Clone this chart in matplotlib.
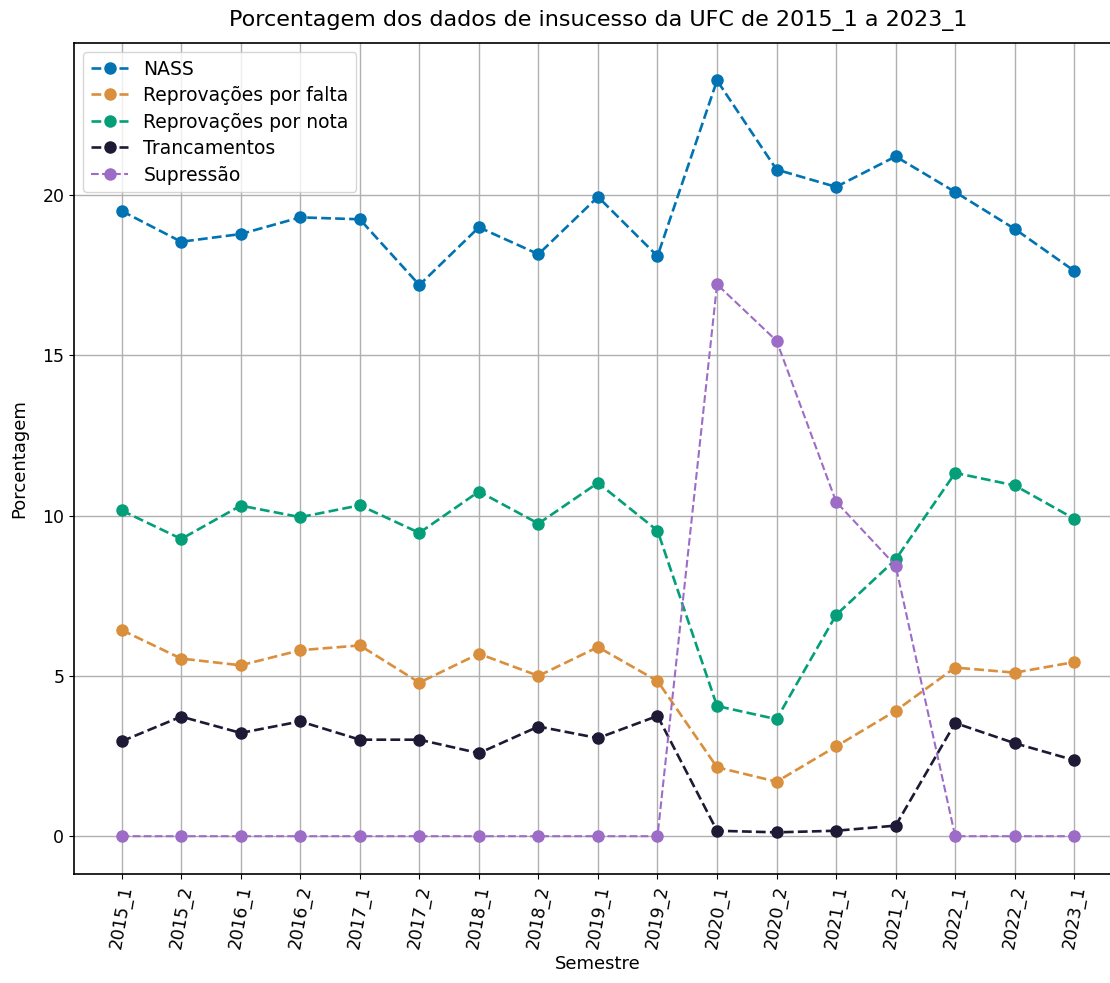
import matplotlib
matplotlib.use("Agg")
import matplotlib.pyplot as plt

semestres = ["2015_1", "2015_2", "2016_1", "2016_2", "2017_1", "2017_2", "2018_1",
             "2018_2", "2019_1", "2019_2", "2020_1", "2020_2", "2021_1", "2021_2",
             "2022_1", "2022_2", "2023_1"]

nass = [19.50, 18.54, 18.78, 19.30, 19.24, 17.19, 18.99, 18.15, 19.94, 18.09,
        23.57, 20.79, 20.25, 21.20, 20.09, 18.94, 17.63]
falta = [6.43, 5.54, 5.33, 5.80, 5.95, 4.79, 5.69, 5.00, 5.90, 4.84,
         2.15, 1.70, 2.80, 3.91, 5.26, 5.10, 5.43]
nota = [10.16, 9.27, 10.31, 9.95, 10.32, 9.46, 10.75, 9.75, 11.02, 9.53,
        4.06, 3.65, 6.90, 8.63, 11.33, 10.94, 9.90]
trancamentos = [2.96, 3.73, 3.22, 3.58, 3.01, 3.01, 2.59, 3.42, 3.06, 3.75,
                0.17, 0.12, 0.17, 0.33, 3.53, 2.90, 2.37]
supressao = [0, 0, 0, 0, 0, 0, 0, 0, 0, 0,
             17.21, 15.45, 10.43, 8.44, 0, 0, 0]

series = [
    ("NASS", nass, "#0173b2", 1.9),
    ("Reprovações por falta", falta, "#d98f3c", 1.9),
    ("Reprovações por nota", nota, "#049f78", 1.9),
    ("Trancamentos", trancamentos, "#1e1a36", 1.9),
    ("Supressão", supressao, "#9d6cc6", 1.5),
]

fig = plt.figure(figsize=(11.10, 9.83), dpi=100)
ax = fig.add_axes([0.0667, 0.1109, 0.944, 0.8457])

x = list(range(len(semestres)))
for name, vals, color, lw in series:
    ax.plot(x, vals, linestyle="--", marker="o", color=color, label=name,
            linewidth=lw, markersize=8)

ax.set_xticks(x)
ax.set_xticklabels(semestres, rotation=80, fontsize=12.5)
ax.tick_params(axis="y", labelsize=12.5)
ax.set_yticks([0, 5, 10, 15, 20])
ax.grid(True, color="#b0b0b0", linewidth=1.0)
ax.set_xlabel("Semestre", fontsize=13)
ax.set_ylabel("Porcentagem", fontsize=13, labelpad=10)
ax.set_title("Porcentagem dos dados de insucesso da UFC de 2015_1 a 2023_1",
             fontsize=16, x=(598 - 74) / 1048, pad=12)
ax.legend(loc="upper left", fontsize=13.5, labelspacing=0.4,
          borderaxespad=0.5)
for s in ax.spines.values():
    s.set_linewidth(1.2)

fig.savefig("out.png", dpi=100)
